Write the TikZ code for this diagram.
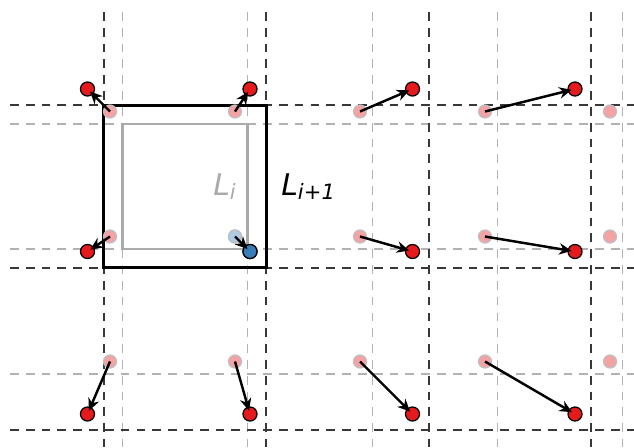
\documentclass[tikz,border=0pt]{standalone}
\usepackage{fontspec}
\setsansfont{DejaVu Sans}
\usetikzlibrary{arrows.meta}
\definecolor{setred}{HTML}{E41A1C}
\definecolor{setblue}{HTML}{377EB8}
\definecolor{oldred}{HTML}{F4A3A4}
\definecolor{oldblue}{HTML}{AFCBE3}
\definecolor{boxgray}{HTML}{AAAAAA}
\newcommand{\subtxt}[1]{\raisebox{-2.6pt}{\fontsize{12}{12}\selectfont #1}}
\begin{document}
\begin{tikzpicture}[x=2.5cm,y=2.5cm,
  darkgrid/.style={draw=black!78, line width=1pt, dash pattern=on 5pt off 4pt},
  lightgrid/.style={draw=black!30, line width=1pt, dash pattern=on 5pt off 4pt},
  olddot/.style={circle, fill=oldred, draw=black!25, line width=0.7pt, minimum size=7.4pt, inner sep=0pt},
  newdot/.style={circle, fill=setred, draw=black, line width=0.7pt, minimum size=8pt, inner sep=0pt},
  move/.style={-{Stealth[length=7pt,width=6.5pt]}, line width=1.4pt, shorten >=2pt},
  lab/.style={anchor=base west, inner sep=0pt, font=\fontsize{17}{20}\selectfont\sffamily}
]
\useasboundingbox (-1.48,-2.084) rectangle (3.592,1.492);
% light grid (L_i)
\foreach \x in {-0.5,0.5,1.5,2.5,3.5}
  \draw[lightgrid] (\x,1.396) -- (\x,-2.084);
\foreach \y in {0.5,-0.5,-1.5}
  \draw[lightgrid] (-1.40,\y) -- (3.592,\y);
% dark grid (L_{i+1})
\foreach \x in {-0.65,0.65,1.95,3.25}
  \draw[darkgrid] (\x,1.396) -- (\x,-2.084);
\foreach \y in {0.65,-0.65,-1.95}
  \draw[darkgrid] (-1.40,\y) -- (3.592,\y);
% boxes
\draw[boxgray, line width=1.4pt] (-0.5,-0.5) rectangle (0.5,0.5);
\draw[black, line width=1.7pt] (-0.65,-0.65) rectangle (0.65,0.65);
% old points
\foreach \i/\x in {0/-0.6,1/0.4,2/1.4,3/2.4,4/3.4}
  \foreach \j/\y in {0/0.6,1/-0.4,2/-1.4}
    \node[olddot] (o\i\j) at (\x,\y) {};
\node[olddot, fill=oldblue] (o11) at (0.4,-0.4) {};
% new points
\foreach \i/\x in {0/-0.6,1/0.4,2/1.4,3/2.4}
  \foreach \j/\y in {0/0.6,1/-0.4,2/-1.4}
    \node[newdot] (n\i\j) at ({1.3*\x},{1.3*\y}) {};
\node[newdot, fill=setblue] (n11) at (0.52,-0.52) {};
% displacement arrows
\foreach \i in {0,1,2,3}
  \foreach \j in {0,1,2}
    \draw[move] (o\i\j.center) -- (n\i\j.center);
% labels
\node[lab, text=boxgray] (li) at (0.224,-0.068) {\itshape L\subtxt{\itshape i}};
\node[lab, text=black] (lii) at (0.768,-0.068) {\itshape L\subtxt{{\itshape i}+1}};
\end{tikzpicture}
\end{document}
